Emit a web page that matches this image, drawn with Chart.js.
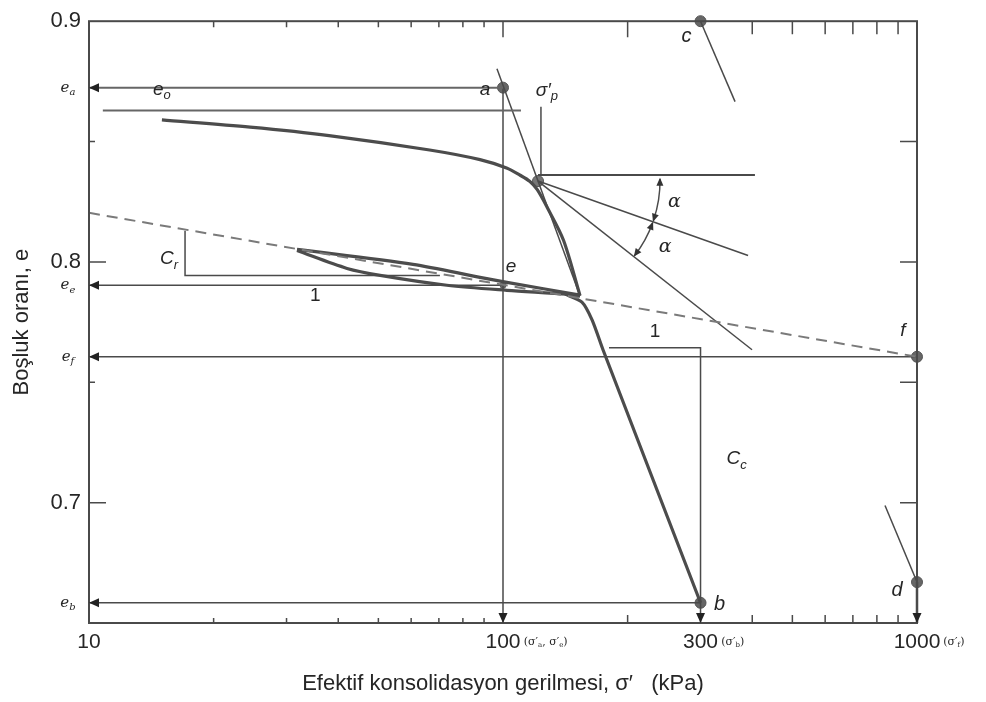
<!DOCTYPE html>
<html>
<head>
<meta charset="utf-8">
<script src="https://cdn.jsdelivr.net/npm/chart.js@4.4.1/dist/chart.umd.min.js"></script>
<style>
  html, body { margin: 0; padding: 0; background: #fff; }
</style>
</head>
<body>
<canvas id="eLogSigma" width="986" height="702"></canvas>
<script>
// e – log σ' consolidation curve with the Casagrande construction

// axis ticks
const xTicks = [10, 100, 300, 1000];
const yTicks = [0.7, 0.8, 0.9];
const yMinorTicks = [0.75, 0.85];
const xMinorTicks = [20, 30, 40, 50, 60, 70, 80, 90, 200, 400, 500, 600, 700, 800, 900];

// loading branch up to the start of unloading
const loadX = [15, 24.5, 38, 66.5, 88, 102, 110, 116, 121, 128, 140, 153.5];
const loadE = [0.859, 0.856, 0.8525, 0.8465, 0.8425, 0.839, 0.836, 0.8335, 0.830, 0.8225, 0.809, 0.786];
// unloading and reloading loop
const unloadX = [153.5, 142.8, 102.2, 73.2, 50.5, 42.0, 31.8];
const unloadE = [0.7858, 0.7866, 0.7882, 0.7903, 0.7944, 0.7973, 0.8047];
const reloadX = [31.8, 60.6, 88.0, 102.2, 153.5];
const reloadE = [0.8052, 0.7990, 0.7936, 0.7915, 0.7862];
// virgin compression after reloading
const virginX = [141.2, 155.1, 164.1, 174.4, 300];
const virginE = [0.7866, 0.7833, 0.7759, 0.7635, 0.6584];

// named points a, e, b, c, d, f
const pointNames = ['a', 'e', 'b', 'c', 'd', 'f'];
const pointX = [100, 100, 300, 300, 1000, 1000];
const pointE = [0.8724, 0.7903, 0.6584, 0.9, 0.667, 0.7606];

// preconsolidation stress σ'p
const sigmaPX = 121.5;
const sigmaPE = 0.8336;

// void ratios read on the axis
const eA = 0.8724;
const e0 = 0.8629;
const eE = 0.7903;
const eF = 0.7606;
const eB = 0.6584;
const eMin = 0.65;

// construction lines
const steepX = [96.7, 153.5], steepE = [0.8802, 0.7858];
const horizX = [121.5, 406], horizE = [0.8361, 0.8361];
const tangentX = [121.5, 390.8], tangentE = [0.8336, 0.8027];
const bisectX = [121.5, 399.5], bisectE = [0.8336, 0.7635];
const pMarkX = [123.5, 123.5], pMarkE = [0.8645, 0.8361];
const e0LineX = [10.8, 110.5];
const swellX = [10, 1000], swellE = [0.8204, 0.7606];
const crX = [17.06, 17.06, 70.4], crE = [0.8130, 0.7944, 0.7944];
const ccX = [180.3, 300, 300], ccE = [0.7643, 0.7643, 0.65];
const cLineX = [300, 363.5], cLineE = [0.9, 0.8666];
const dLineX = [837, 1000], dLineE = [0.6988, 0.667];

const INK = '#4a4a4a';
const TEXT = '#262626';
const CURVE = '#4c4c4c';

function line(xs, es, opts) {
  return Object.assign({
    data: xs.map((x, i) => ({ x: x, y: es[i] })),
    showLine: true,
    pointRadius: 0,
    borderColor: INK,
    borderWidth: 1.5,
    fill: false,
    clip: false,
    tension: 0
  }, opts);
}

const datasets = [
  line(swellX, swellE, { borderColor: '#7a7a7a', borderWidth: 2, borderDash: [11, 7] }),
  line([10, 100], [eA, eA], { borderWidth: 2, borderColor: '#666', arrow: 'start' }),
  line(e0LineX, [e0, e0], { borderWidth: 2, borderColor: '#666' }),
  line([10, 100], [eE, eE], { arrow: 'start' }),
  line([10, 1000], [eF, eF], { arrow: 'start' }),
  line([10, 300], [eB, eB], { arrow: 'start' }),
  line([100, 100], [eA, eMin], { arrow: 'end' }),
  line(ccX, ccE, { arrow: 'end' }),
  line([1000, 1000], [pointE[4], eMin], { borderWidth: 2.5, arrow: 'end' }),
  line(crX, crE),
  line(steepX, steepE),
  line(horizX, horizE, { borderWidth: 2 }),
  line(tangentX, tangentE),
  line(bisectX, bisectE),
  line(pMarkX, pMarkE),
  line(cLineX, cLineE),
  line(dLineX, dLineE),
  line(loadX, loadE, { borderWidth: 3.2, borderColor: CURVE, tension: 0.3 }),
  line(unloadX, unloadE, { borderWidth: 3.2, borderColor: CURVE, tension: 0.3 }),
  line(reloadX, reloadE, { borderWidth: 3.2, borderColor: CURVE, tension: 0.3 }),
  line(virginX, virginE, { borderWidth: 3.2, borderColor: CURVE, tension: 0.25 }),
  {
    data: pointX.map((x, i) => ({ x: x, y: pointE[i] })),
    showLine: false,
    clip: false,
    pointRadius: pointNames.map(n => n === 'e' ? 3 : 5.5),
    pointBackgroundColor: '#666',
    pointBorderColor: '#555',
    pointBorderWidth: 1
  },
  {
    data: [{ x: sigmaPX, y: sigmaPE }],
    showLine: false,
    pointRadius: 5.5,
    pointBackgroundColor: '#777',
    pointBorderColor: '#555',
    pointBorderWidth: 1
  }
];

function fontStr(style, size, family) {
  return style + ' ' + size + 'px ' + family;
}

// text with subscripts: parts = [[text, isSub], ...]
function drawRich(ctx, parts, x, y, size, family, style, align) {
  const subSize = Math.round(size * 0.68);
  const widths = parts.map(p => {
    ctx.font = fontStr(style, p[1] ? subSize : size, family);
    return ctx.measureText(p[0]).width;
  });
  const total = widths.reduce((s, w) => s + w, 0);
  let cx = align === 'right' ? x - total : align === 'left' ? x : x - total / 2;
  ctx.textAlign = 'left';
  ctx.textBaseline = 'middle';
  parts.forEach((p, i) => {
    ctx.font = fontStr(style, p[1] ? subSize : size, family);
    ctx.fillText(p[0], cx, p[1] ? y + size * 0.32 : y);
    cx += widths[i];
  });
}

function arrowHead(ctx, tx, ty, fx, fy, len, half) {
  const a = Math.atan2(ty - fy, tx - fx);
  const c = Math.cos(a), s = Math.sin(a);
  ctx.beginPath();
  ctx.moveTo(tx, ty);
  ctx.lineTo(tx - len * c + half * s, ty - len * s - half * c);
  ctx.lineTo(tx - len * c - half * s, ty - len * s + half * c);
  ctx.closePath();
  ctx.fill();
}

const SANS = '"Liberation Sans", Arial, sans-serif';
const SERIF = '"DejaVu Serif", serif';

// annotation texts, anchored in data units
const notes = [
  { parts: [['a']], x: pointX[0], e: pointE[0], dx: -18, dy: 2, size: 19 },
  { parts: [['e']], x: pointX[1], e: pointE[1], dx: 8, dy: -19, size: 19 },
  { parts: [['b']], x: pointX[2], e: pointE[2], dx: 19, dy: 2, size: 20 },
  { parts: [['c']], x: pointX[3], e: pointE[3], dx: -14, dy: 15, size: 20 },
  { parts: [['d']], x: pointX[4], e: pointE[4], dx: -20, dy: 8, size: 20 },
  { parts: [['f']], x: pointX[5], e: pointE[5], dx: -14, dy: -26, size: 19 },
  { parts: [['e'], ['o', 1]], x: loadX[0], e: eA, dx: 0, dy: 2, size: 19 },
  { parts: [['σ′'], ['p', 1]], x: pMarkX[0], e: pMarkE[0], dx: 6, dy: -16, size: 19 },
  { parts: [['C'], ['r', 1]], x: crX[0], e: (crE[0] + crE[1]) / 2, dx: -16, dy: 6, size: 19 },
  { parts: [['1']], x: 35.2, e: crE[1], dx: 0, dy: 20, size: 19, style: 'normal' },
  { parts: [['1']], x: 232.8, e: ccE[0], dx: 0, dy: -16, size: 19, style: 'normal' },
  { parts: [['C'], ['c', 1]], x: ccX[1], e: 0.7181, dx: 36, dy: 0, size: 19 },
  { parts: [['e'], ['a', 1]], x: 10, e: eA, dx: -21, dy: 0, size: 15, family: SERIF },
  { parts: [['e'], ['e', 1]], x: 10, e: eE, dx: -21, dy: 0, size: 15, family: SERIF },
  { parts: [['e'], ['f', 1]], x: 10, e: eF, dx: -21, dy: 0, size: 15, family: SERIF },
  { parts: [['e'], ['b', 1]], x: 10, e: eB, dx: -21, dy: 0, size: 15, family: SERIF }
];

// small notes after the x tick labels
const xTickNotes = [null, [['(σ′'], ['a', 1], [', σ′'], ['e', 1], [')']], [['(σ′'], ['b', 1], [')']], [['(σ′'], ['f', 1], [')']]];

const decorations = {
  id: 'decorations',
  afterDatasetsDraw(chart) {
    const { ctx, chartArea: a, scales: { x, y } } = chart;
    ctx.save();

    // frame
    ctx.strokeStyle = INK;
    ctx.lineWidth = 2;
    ctx.strokeRect(a.left, a.top, a.right - a.left, a.bottom - a.top);

    // inner tick marks
    ctx.lineWidth = 1.5;
    ctx.beginPath();
    yTicks.concat(yMinorTicks).forEach(v => {
      const py = y.getPixelForValue(v);
      if (v === 0.9) return;
      const left = yMinorTicks.includes(v) ? 6 : 17;
      ctx.moveTo(a.left, py); ctx.lineTo(a.left + left, py);
      ctx.moveTo(a.right, py); ctx.lineTo(a.right - 17, py);
    });
    xMinorTicks.concat([100]).forEach(v => {
      const px = x.getPixelForValue(v);
      const top = (v === 100 || v === 200) ? 16 : v > 300 ? 13 : 6;
      ctx.moveTo(px, a.top); ctx.lineTo(px, a.top + top);
      if (v !== 100) {
        const bot = v > 100 ? 8 : 5;
        ctx.moveTo(px, a.bottom); ctx.lineTo(px, a.bottom - bot);
      }
    });
    ctx.stroke();

    // arrowheads on the reading lines
    ctx.fillStyle = '#222';
    chart.data.datasets.forEach((ds, i) => {
      if (!ds.arrow) return;
      const pts = chart.getDatasetMeta(i).data;
      const n = pts.length;
      const [tip, from] = ds.arrow === 'start' ? [pts[0], pts[1]] : [pts[n - 1], pts[n - 2]];
      arrowHead(ctx, tip.x, tip.y, from.x, from.y, 10, 4.5);
    });

    // α arcs between horizontal, tangent and bisector
    const cx = x.getPixelForValue(sigmaPX), cy = y.getPixelForValue(sigmaPE);
    const ang = (xs, es) => Math.atan2(y.getPixelForValue(es[1]) - cy, x.getPixelForValue(xs[1]) - cx);
    const aH = ang(horizX, horizE), aT = ang(tangentX, tangentE), aB = ang(bisectX, bisectE);
    const r = 122;
    ctx.strokeStyle = INK;
    ctx.lineWidth = 1.5;
    [[aH, aT], [aT, aB]].forEach(([a0, a1]) => {
      ctx.beginPath();
      ctx.arc(cx, cy, r, a0 + 0.01, a1 - 0.01);
      ctx.stroke();
    });
    ctx.fillStyle = '#333';
    [[aH, 1], [aT, -1], [aT, 1], [aB, -1]].forEach(([t, dir]) => {
      const tx = cx + r * Math.cos(t), ty = cy + r * Math.sin(t);
      const back = t + dir * 0.07;
      arrowHead(ctx, tx, ty, cx + r * Math.cos(back), cy + r * Math.sin(back), 8, 3.5);
    });
    ctx.fillStyle = TEXT;
    const mid1 = (aH + aT) / 2, mid2 = (aT + aB) / 2;
    drawRich(ctx, [['α']], cx + (r + 16) * Math.cos(mid1), cy + (r + 16) * Math.sin(mid1), 19, SERIF, 'italic', 'center');
    drawRich(ctx, [['α']], cx + (r + 14) * Math.cos(mid2) + 8, cy + (r + 14) * Math.sin(mid2), 19, SERIF, 'italic', 'center');

    // point and construction labels
    notes.forEach(n => {
      drawRich(ctx, n.parts, x.getPixelForValue(n.x) + n.dx, y.getPixelForValue(n.e) + n.dy,
        n.size, n.family || SANS, n.style || 'italic', 'center');
    });

    // stress names after the tick numbers
    ctx.font = fontStr('normal', 20, SANS);
    xTicks.forEach((v, i) => {
      if (!xTickNotes[i]) return;
      const w = ctx.measureText(String(v)).width;
      drawRich(ctx, xTickNotes[i], x.getPixelForValue(v) + w / 2 + 4, a.bottom + 19, 11, SERIF, 'normal', 'left');
      ctx.font = fontStr('normal', 20, SANS);
    });
    ctx.restore();
  }
};

new Chart(document.getElementById('eLogSigma'), {
  type: 'scatter',
  data: { datasets: datasets },
  options: {
    responsive: false,
    animation: false,
    devicePixelRatio: 1,
    layout: { padding: { left: 0, top: 17, right: 69, bottom: 0 } },
    plugins: { legend: { display: false }, tooltip: { enabled: false } },
    scales: {
      x: {
        type: 'logarithmic',
        min: 10,
        max: 1000,
        afterBuildTicks: s => { s.ticks = xTicks.map(v => ({ value: v })); },
        afterFit: s => { s.height = 79; },
        grid: { display: false, drawTicks: false },
        border: { display: false },
        ticks: {
          callback: v => String(v),
          autoSkip: false,
          maxRotation: 0,
          padding: 7,
          color: TEXT,
          font: { family: SANS, size: 21 }
        },
        title: {
          display: true,
          text: 'Efektif konsolidasyon gerilmesi, σ′   (kPa)',
          color: TEXT,
          font: { family: SANS, size: 22 },
          padding: { top: 0, bottom: 5 }
        }
      },
      y: {
        min: eMin,
        max: 0.9,
        afterBuildTicks: s => { s.ticks = yTicks.map(v => ({ value: v })); },
        afterFit: s => { s.width = 89; },
        grid: { display: false, drawTicks: false },
        border: { display: false },
        ticks: {
          callback: v => v.toFixed(1),
          padding: 8,
          color: TEXT,
          font: { family: SANS, size: 22 }
        },
        title: {
          display: true,
          text: 'Boşluk oranı, e',
          color: TEXT,
          font: { family: SANS, size: 22 },
          padding: { top: 9, bottom: 0 }
        }
      }
    }
  },
  plugins: [decorations]
});
</script>
</body>
</html>
